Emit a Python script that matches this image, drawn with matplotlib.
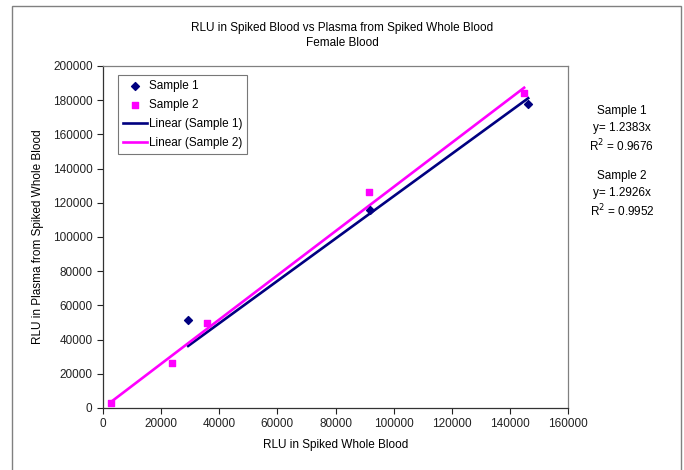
import matplotlib
matplotlib.use("Agg")
import matplotlib.pyplot as plt
from matplotlib.patches import Rectangle
import numpy as np

plt.rcParams['font.family'] = ['Liberation Sans', 'DejaVu Sans']

# Measured RLU values
s1_x = [29300, 91900, 146300]
s1_y = [51500, 115800, 177800]
s2_x = [2700, 23800, 35800, 91500, 144900]
s2_y = [3000, 26300, 49700, 126300, 184200]

# Linear trendlines forced through the origin
s1_slope, s1_r2 = 1.2383, 0.9676
s2_slope, s2_r2 = 1.2926, 0.9952

x_ticks = [0, 20000, 40000, 60000, 80000, 100000, 120000, 140000, 160000]
y_ticks = [0, 20000, 40000, 60000, 80000, 100000, 120000, 140000, 160000, 180000, 200000]

navy = '#000080'
magenta = '#FF00FF'

fig = plt.figure(figsize=(6.84, 4.70), dpi=100)

# chart area border
fig.patches.append(Rectangle((12 / 684, -0.02), (681 - 12) / 684, (464 / 470) + 0.02,
                             transform=fig.transFigure, fill=False,
                             edgecolor='#808080', linewidth=1.0, zorder=0))

ax = fig.add_axes([103 / 684, 62 / 470, 465 / 684, 342 / 470])

ax.scatter(s1_x, s1_y, marker='D', s=16, color=navy, label='Sample 1', zorder=3)
ax.scatter(s2_x, s2_y, marker='s', s=24, color=magenta, label='Sample 2', zorder=3)

t1 = np.array([min(s1_x), max(s1_x)])
t2 = np.array([min(s2_x), max(s2_x)])
ax.plot(t1, s1_slope * t1, color=navy, linewidth=1.9, label='Linear (Sample 1)', zorder=2)
ax.plot(t2, s2_slope * t2, color=magenta, linewidth=1.9, label='Linear (Sample 2)', zorder=2)

ax.set_xlim(0, 160000)
ax.set_ylim(0, 200000)
ax.set_xticks(x_ticks)
ax.set_yticks(y_ticks)
ax.set_xticklabels([str(v) for v in x_ticks])
ax.set_yticklabels([str(v) for v in y_ticks])
ax.tick_params(direction='out', length=4, width=0.8, labelsize=8.5, colors='#222222')

for side in ['left', 'bottom']:
    ax.spines[side].set_color('#333333')
    ax.spines[side].set_linewidth(0.9)
for side in ['top', 'right']:
    ax.spines[side].set_color('#808080')
    ax.spines[side].set_linewidth(0.9)

ax.set_xlabel('RLU in Spiked Whole Blood', fontsize=8.5, labelpad=6)
ax.set_ylabel('RLU in Plasma from Spiked Whole Blood', fontsize=8.5, labelpad=6)

leg = ax.legend(loc='upper left', bbox_to_anchor=(0.032, 0.974), borderaxespad=0,
                fontsize=8.5, frameon=True, fancybox=False, edgecolor='#555555',
                handlelength=2.1, handletextpad=0.1, borderpad=0.4,
                labelspacing=0.6, scatterpoints=1)
leg.get_frame().set_linewidth(0.8)

fig.text(0.5, 1 - 28 / 470, 'RLU in Spiked Blood vs Plasma from Spiked Whole Blood',
         ha='center', va='center', fontsize=8.5)
fig.text(0.5, 1 - 43 / 470, 'Female Blood', ha='center', va='center', fontsize=8.5)

ann_x = 622 / 684
fig.text(ann_x, 1 - 111 / 470, 'Sample 1', ha='center', va='center', fontsize=8.5)
fig.text(ann_x, 1 - 128 / 470, f'y= {s1_slope:.4f}x', ha='center', va='center', fontsize=8.5)
fig.text(ann_x, 1 - 146 / 470, f'R$^2$ = {s1_r2:.4f}', ha='center', va='center', fontsize=8.5)
fig.text(ann_x, 1 - 176 / 470, 'Sample 2', ha='center', va='center', fontsize=8.5)
fig.text(ann_x, 1 - 193 / 470, f'y= {s2_slope:.4f}x', ha='center', va='center', fontsize=8.5)
fig.text(ann_x, 1 - 211 / 470, f'R$^2$ = {s2_r2:.4f}', ha='center', va='center', fontsize=8.5)

fig.savefig('out.png', dpi=100)
